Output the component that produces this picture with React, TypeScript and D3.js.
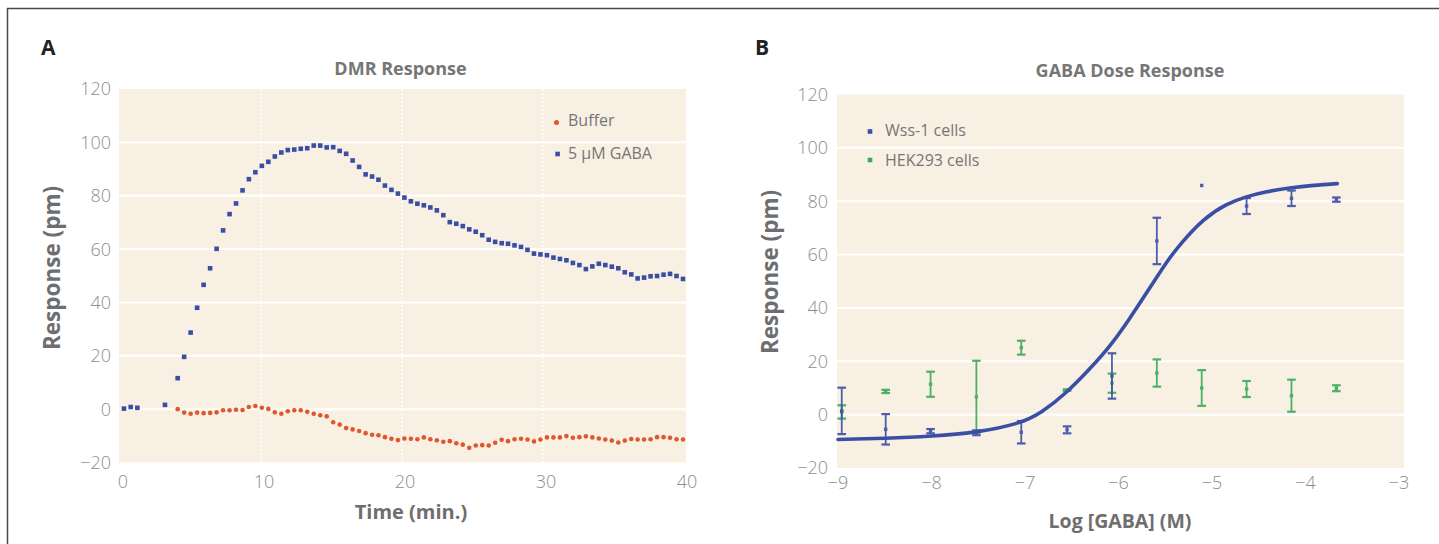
import React from 'react';
import * as d3 from 'd3';

// ---------- Panel A: DMR response (time course) ----------
const A_X_TICKS = [0, 10, 20, 30, 40];
const A_Y_TICKS = [-20, 0, 20, 40, 60, 80, 100, 120];
const A_GRID_Y = [0, 20, 40, 60, 80, 100];
const A_GRID_X = [10, 20, 30];

const GABA_EARLY_T = [0.28, 0.76, 1.23, 3.19];
const GABA_EARLY_V = [0.2, 0.8, 0.5, 1.6];

const SAMPLE_T = [
  4.09, 4.55, 5.01, 5.47, 5.93, 6.39, 6.85, 7.31, 7.77, 8.23,
  8.69, 9.14, 9.6, 10.06, 10.52, 10.98, 11.44, 11.9, 12.36, 12.82,
  13.28, 13.74, 14.2, 14.66, 15.12, 15.58, 16.04, 16.5, 16.96, 17.42,
  17.88, 18.33, 18.79, 19.25, 19.71, 20.17, 20.63, 21.09, 21.55, 22.01,
  22.47, 22.93, 23.39, 23.85, 24.31, 24.77, 25.23, 25.69, 26.15, 26.61,
  27.07, 27.52, 27.98, 28.44, 28.9, 29.36, 29.82, 30.28, 30.74, 31.2,
  31.66, 32.12, 32.58, 33.04, 33.5, 33.96, 34.42, 34.88, 35.34, 35.8,
  36.26, 36.71, 37.17, 37.63, 38.09, 38.55, 39.01, 39.47, 39.93,
];

const GABA_V = [
  11.6, 19.6, 28.7, 38.0, 46.6, 52.8, 60.1, 67.0, 73.1, 77.1,
  82.0, 86.2, 88.8, 91.2, 92.7, 94.7, 96.2, 97.1, 97.3, 97.6,
  97.8, 98.8, 98.8, 98.1, 98.2, 96.8, 95.7, 93.2, 90.8, 88.0,
  87.2, 86.0, 83.8, 82.2, 80.8, 79.3, 77.9, 77.0, 76.4, 75.6,
  74.5, 72.7, 70.1, 69.5, 68.6, 67.4, 66.5, 65.2, 63.5, 62.7,
  62.2, 62.0, 61.4, 60.8, 59.7, 58.3, 58.0, 57.7, 56.8, 56.3,
  55.8, 54.8, 54.0, 52.5, 53.5, 54.5, 54.0, 53.4, 52.8, 51.3,
  50.5, 49.0, 49.3, 49.8, 49.9, 50.4, 50.7, 49.9, 48.8,
];

const BUFFER_V = [
  0.0, -1.3, -1.7, -1.3, -1.5, -1.4, -1.2, -0.4, -0.4, -0.2,
  -0.3, 0.8, 1.2, 0.5, 0.1, -1.2, -1.7, -0.8, -0.4, -0.4,
  -1.0, -1.7, -2.3, -2.7, -4.9, -5.8, -7.1, -7.6, -8.2, -9.0,
  -9.6, -9.8, -10.5, -11.1, -11.6, -11.0, -11.1, -11.3, -10.6, -11.3,
  -11.7, -12.2, -12.0, -12.8, -13.3, -14.5, -13.6, -13.5, -13.6, -12.6,
  -11.5, -12.0, -11.3, -11.1, -11.4, -12.1, -11.4, -10.6, -10.6, -10.6,
  -10.1, -10.7, -10.5, -10.2, -10.6, -11.0, -11.4, -11.8, -12.5, -11.8,
  -11.2, -11.4, -11.4, -11.3, -10.5, -10.5, -10.7, -11.3, -11.4,
];

// ---------- Panel B: GABA dose response ----------
const B_X_TICKS = [-9, -8, -7, -6, -5, -4, -3];
const B_Y_TICKS = [-20, 0, 20, 40, 60, 80, 100, 120];
const B_GRID_Y = [0, 20, 40, 60, 80, 100];

const LOG_DOSE = [-8.96, -8.49, -8.01, -7.52, -7.04, -6.55, -6.07, -5.59, -5.11, -4.63, -4.15, -3.67];
const WSS_MEAN = [1.4, -5.5, -6.2, -6.8, -6.6, -5.7, 14.5, 65.1, 85.9, 78.2, 81.1, 80.6];
const WSS_ERR = [8.7, 5.7, 0.8, 0.9, 4.2, 1.3, 8.5, 8.7, 0, 3.0, 2.9, 0.8];
const HEK_MEAN = [1.0, 8.7, 11.4, 6.7, 25.1, 9.2, 11.8, 15.6, 10.0, 9.6, 7.1, 9.9];
const HEK_ERR = [2.5, 0.6, 4.7, 13.5, 2.6, 0.3, 3.6, 5.1, 6.7, 3.0, 6.0, 1.1];

const FIT_X = [-9.0, -8.5, -7.99, -7.53, -7.05, -6.82, -6.56, -6.31, -6.08, -5.88, -5.74, -5.6, -5.48, -5.34, -5.09, -4.85, -4.63, -4.42, -4.17, -3.91, -3.66];
const FIT_Y = [-9.3, -8.9, -8.1, -6.8, -3.4, 0.8, 8.0, 17.0, 26.0, 36.0, 43.5, 51.0, 57.5, 64.0, 73.5, 79.0, 81.8, 83.6, 85.0, 86.0, 86.6];

// ---------- styles ----------
const FONT = "'Open Sans', 'Noto Sans', sans-serif";
const BG = '#f9f0e4';
const BLUE = '#3b4ea6';
const ORANGE = '#e0572b';
const GREEN = '#3aab5a';
const TICK = '#8d8d8d';
const TITLE = '#767676';
const AXTITLE = '#6e6e6e';

const fmt = (v: number) => (v < 0 ? '\u2212' + Math.abs(v) : String(v));

function PanelA() {
  const x = d3.scaleLinear().domain([0, 40]).range([120, 684]);
  const y = d3.scaleLinear().domain([-20, 120]).range([462.5, 89]);
  const left = 119, right = 686;
  const s = 4.6;
  return (
    <g>
      <rect x={left} y={y(120)} width={right - left} height={y(-20) - y(120)} fill={BG} />
      {A_GRID_Y.map((v) => (
        <line key={'gy' + v} x1={left} x2={right} y1={y(v)} y2={y(v)} stroke="#fff" strokeWidth={2} />
      ))}
      {A_GRID_X.map((v) => (
        <line key={'gx' + v} x1={x(v)} x2={x(v)} y1={y(120)} y2={y(-20)} stroke="#fff" strokeWidth={1.5} strokeDasharray="2 2" />
      ))}
      {A_Y_TICKS.map((v) => (
        <text key={'yt' + v} x={111} y={y(v)} dy="0.36em" textAnchor="end" fontSize={18} fill={TICK} fontWeight={300}>
          {fmt(v)}
        </text>
      ))}
      {A_X_TICKS.map((v) => (
        <text key={'xt' + v} x={x(v) + 3} y={482} dy="0.36em" textAnchor="middle" fontSize={18} fill={TICK} fontWeight={300}>
          {fmt(v)}
        </text>
      ))}
      {BUFFER_V.map((v, i) => (
        <circle key={'b' + i} cx={x(SAMPLE_T[i])} cy={y(v)} r={2.3} fill={ORANGE} />
      ))}
      {GABA_EARLY_V.map((v, i) => (
        <rect key={'ge' + i} x={x(GABA_EARLY_T[i]) - s / 2} y={y(v) - s / 2} width={s} height={s} fill={BLUE} />
      ))}
      {GABA_V.map((v, i) => (
        <rect key={'g' + i} x={x(SAMPLE_T[i]) - s / 2} y={y(v) - s / 2} width={s} height={s} fill={BLUE} />
      ))}
      {/* legend */}
      <circle cx={556.5} cy={122.5} r={2.5} fill={ORANGE} />
      <text x={568} y={126} fontSize={16} fill={TITLE}>Buffer</text>
      <rect x={555.3} y={151.7} width={s} height={s} fill={BLUE} />
      <text x={568} y={159} fontSize={16} fill={TITLE}>5 µM GABA</text>
      {/* titles */}
      <text x={400.5} y={75} textAnchor="middle" fontSize={18} fontWeight={700} fill={TITLE}>DMR Response</text>
      <text x={411} y={519} textAnchor="middle" fontSize={20} fontWeight={700} fill={AXTITLE}>Time (min.)</text>
      <text transform={`translate(60,${268}) rotate(-90)`} textAnchor="middle" fontSize={22.5} fontWeight={700} fill={AXTITLE}>
        Response (pm)
      </text>
      <text x={41} y={55} fontSize={21} fontWeight={700} fill="#222">A</text>
    </g>
  );
}

function ErrBar({ cx, m, e, y, color }: { cx: number; m: number; e: number; y: d3.ScaleLinear<number, number>; color: string }) {
  const cap = 4.3;
  const top = y(m + e), bot = y(m - e);
  return (
    <g stroke={color} strokeWidth={1.8} opacity={0.9}>
      {e > 0.25 && <line x1={cx} x2={cx} y1={top} y2={bot} />}
      {e > 0.25 && <line x1={cx - cap} x2={cx + cap} y1={top} y2={top} strokeWidth={2.2} />}
      {e > 0.25 && <line x1={cx - cap} x2={cx + cap} y1={bot} y2={bot} strokeWidth={2.2} />}
      <rect x={cx - 1.7} y={y(m) - 1.7} width={3.4} height={3.4} fill={color} stroke="none" />
    </g>
  );
}

function PanelB() {
  const x = d3.scaleLinear().domain([-9, -3]).range([838, 1399]);
  const y = d3.scaleLinear().domain([-20, 120]).range([468, 94.5]);
  const left = 837, right = 1404;
  const line = d3
    .line<number>()
    .x((_, i) => x(FIT_X[i]))
    .y((d) => y(d))
    .curve(d3.curveBasis);
  return (
    <g>
      <rect x={left} y={y(120)} width={right - left} height={y(-20) - y(120)} fill={BG} />
      {B_GRID_Y.map((v) => (
        <line key={'gy' + v} x1={left} x2={right} y1={y(v)} y2={y(v)} stroke="#fff" strokeWidth={2} />
      ))}
      {B_Y_TICKS.map((v) => (
        <text key={'yt' + v} x={828} y={y(v)} dy="0.36em" textAnchor="end" fontSize={18} fill={TICK} fontWeight={300}>
          {fmt(v)}
        </text>
      ))}
      {B_X_TICKS.map((v) => (
        <text key={'xt' + v} x={x(v)} y={483} dy="0.36em" textAnchor="middle" fontSize={18} fill={TICK} fontWeight={300}>
          {fmt(v)}
        </text>
      ))}
      {HEK_MEAN.map((m, i) => (
        <ErrBar key={'h' + i} cx={x(LOG_DOSE[i])} m={m} e={HEK_ERR[i]} y={y} color={GREEN} />
      ))}
      {WSS_MEAN.map((m, i) => (
        <ErrBar key={'w' + i} cx={x(LOG_DOSE[i])} m={m} e={WSS_ERR[i]} y={y} color={BLUE} />
      ))}
      <path d={line(FIT_Y) || ''} fill="none" stroke={BLUE} strokeWidth={3.6} strokeLinecap="round" />
      {/* legend */}
      <rect x={867.7} y={129.2} width={4.6} height={4.6} fill={BLUE} />
      <text x={885} y={136} fontSize={16} fill={TITLE}>Wss-1 cells</text>
      <rect x={867.7} y={157.7} width={4.6} height={4.6} fill={GREEN} />
      <text x={885} y={166} fontSize={16} fill={TITLE}>HEK293 cells</text>
      {/* titles */}
      <text x={1130} y={77} textAnchor="middle" fontSize={18} fontWeight={700} fill={TITLE}>GABA Dose Response</text>
      <text x={1120} y={528} textAnchor="middle" fontSize={19.5} fontWeight={700} fill={AXTITLE}>Log [GABA] (M)</text>
      <text transform={`translate(778,${272}) rotate(-90)`} textAnchor="middle" fontSize={22.5} fontWeight={700} fill={AXTITLE}>
        Response (pm)
      </text>
      <text x={755} y={55} fontSize={21} fontWeight={700} fill="#222">B</text>
    </g>
  );
}

export default function App() {
  return (
    <svg
      width={1439}
      height={544}
      viewBox="0 0 1439 544"
      style={{ position: 'absolute', left: 0, top: 0, background: '#fff' }}
      fontFamily={FONT}
    >
      <rect x={0} y={0} width={1439} height={544} fill="#fff" />
      <line x1={7} x2={1439} y1={8.5} y2={8.5} stroke="#4a4a4a" strokeWidth={1.5} />
      <line x1={7.5} x2={7.5} y1={8} y2={544} stroke="#4a4a4a" strokeWidth={1.5} />
      <PanelA />
      <PanelB />
    </svg>
  );
}
